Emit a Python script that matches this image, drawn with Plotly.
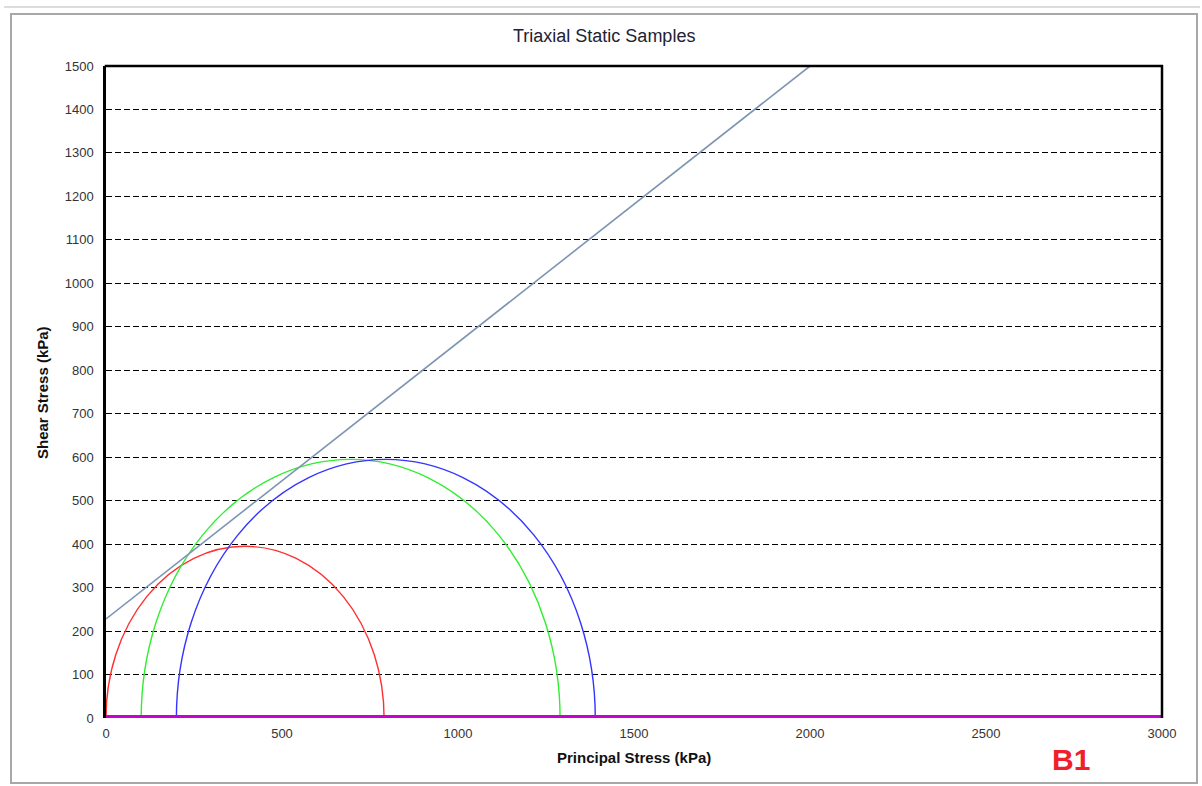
import plotly.graph_objects as go

# ---- data ----
circle_names = ["Sample 1", "Sample 2", "Sample 3"]
sigma3 = [0, 100, 200]          # minor principal stress (kPa)
sigma1 = [790, 1290, 1390]      # major principal stress (kPa)
circle_colors = ["#FF3030", "#30EE30", "#3434FF"]

envelope_x = [0, 2000]
envelope_y = [228, 1500]

baseline_x = [0, 3000]
baseline_y = [0, 0]

x_ticks = [0, 500, 1000, 1500, 2000, 2500, 3000]
y_ticks = list(range(0, 1600, 100))

W, H = 1202, 786
L, R, T, B = 106, 1162, 66, 718


def px(x):
    return (x - L) / (R - L)


def py(y):
    return (B - y) / (B - T)


fig = go.Figure()

fig.add_trace(go.Scatter(x=envelope_x, y=envelope_y, mode="lines",
                         line=dict(color="#7D95B3", width=1.6),
                         showlegend=False, hoverinfo="skip"))
fig.add_trace(go.Scatter(x=baseline_x, y=baseline_y, mode="lines",
                         line=dict(color="#CC00CC", width=6),
                         showlegend=False, cliponaxis=False, hoverinfo="skip"))

shapes = []
for s3, s1, c in zip(sigma3, sigma1, circle_colors):
    r = (s1 - s3) / 2
    shapes.append(dict(type="circle", xref="x", yref="y", x0=s3, x1=s1,
                       y0=-r, y1=r, line=dict(color=c, width=1.4),
                       layer="between"))

# top and right border of the plot area
shapes.append(dict(type="line", xref="paper", yref="paper",
                   x0=px(L - 1.25), x1=px(R + 1), y0=1, y1=1,
                   line=dict(color="black", width=2.5), layer="above"))
shapes.append(dict(type="line", xref="paper", yref="paper",
                   x0=1, x1=1, y0=0, y1=py(T - 1),
                   line=dict(color="black", width=2.5), layer="above"))

# window frame
shapes.append(dict(type="rect", xref="paper", yref="paper",
                   x0=px(11), x1=px(1197), y0=py(783), y1=py(14),
                   line=dict(color="#A8A8A8", width=2), layer="below"))
shapes.append(dict(type="line", xref="paper", yref="paper",
                   x0=px(4), x1=px(1200), y0=py(7), y1=py(7),
                   line=dict(color="#D0D0D0", width=1.5), layer="below"))

fig.update_layout(
    width=W, height=H,
    margin=dict(l=L, r=W - R, t=T, b=H - B),
    paper_bgcolor="white", plot_bgcolor="white",
    showlegend=False,
    font=dict(family="Liberation Sans, Arial, sans-serif", color="#222222"),
    shapes=shapes,
    annotations=[
        dict(text="Triaxial Static Samples", xref="paper", yref="paper",
             x=px(604), y=py(36), xanchor="center", yanchor="middle",
             showarrow=False, font=dict(size=18, color="#222233")),
        dict(text="<b>Principal Stress (kPa)</b>", xref="paper", yref="paper",
             x=px(634), y=py(757), xanchor="center", yanchor="middle",
             showarrow=False, font=dict(size=15, color="#111111")),
        dict(text="<b>Shear Stress (kPa)</b>", xref="paper", yref="paper",
             x=px(42), y=py(393), xanchor="center", yanchor="middle",
             textangle=-90, showarrow=False,
             font=dict(size=15, color="#111111")),
        dict(text="<b>B1</b>", xref="paper", yref="paper",
             x=px(1071), y=py(759), xanchor="center", yanchor="middle",
             showarrow=False, font=dict(size=30, color="#F0202A")),
    ],
)

fig.update_xaxes(range=[0, 3000], tickvals=x_ticks, showgrid=False,
                 zeroline=False, showline=False, ticks="",
                 ticklabelstandoff=6,
                 tickfont=dict(size=13, color="#333333"))
fig.update_yaxes(range=[0, 1500], tickvals=y_ticks, showgrid=True,
                 gridcolor="black", gridwidth=1, griddash="6px,3px",
                 zeroline=False, showline=True, linecolor="black", linewidth=2.5,
                 mirror=False, ticks="", ticklabelstandoff=7,
                 tickfont=dict(size=13, color="#333333"))

fig.write_html("out.html")
